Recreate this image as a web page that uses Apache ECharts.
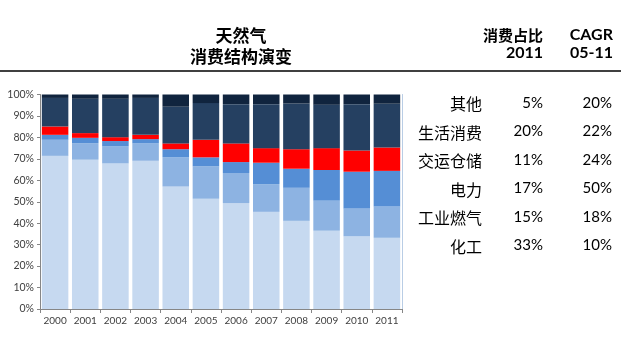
<!DOCTYPE html>
<html>
<head>
<meta charset="utf-8">
<script src="https://cdn.jsdelivr.net/npm/echarts@6/dist/echarts.min.js"></script>
<style>
  html, body { margin: 0; padding: 0; background: #fff; }
  #chart { width: 621px; height: 338px; }
</style>
</head>
<body>
<div id="chart"></div>
<script>
// Natural gas consumption structure, share of each end use (%)
const years = ['2000', '2001', '2002', '2003', '2004', '2005', '2006', '2007', '2008', '2009', '2010', '2011'];
const chemical  = [71.4, 69.6, 67.9, 69.1, 57.1, 51.4, 49.4, 45.3, 41.1, 36.5, 33.9, 33.2];
const industry  = [7.5, 7.7, 7.9, 8.1, 13.7, 15.1, 14.0, 12.9, 15.4, 14.0, 13.0, 14.6];
const power     = [2.3, 2.5, 2.5, 2.0, 3.7, 4.2, 5.1, 10.0, 8.9, 14.3, 17.1, 16.6];
const transport = [3.9, 2.2, 1.8, 2.0, 2.7, 8.2, 8.7, 6.8, 9.1, 10.2, 9.9, 10.9];
const household = [13.3, 16.0, 17.9, 17.2, 17.1, 17.1, 18.3, 20.5, 21.3, 20.2, 21.6, 20.4];
const other     = [1.6, 2.0, 2.0, 1.6, 5.7, 4.0, 4.5, 4.5, 4.2, 4.8, 4.5, 4.3];

// Side table, listed top to bottom
const tableNames = ['其他', '生活消费', '交运仓储', '电力', '工业燃气', '化工'];
const share2011  = ['5%', '20%', '11%', '17%', '15%', '33%'];
const cagr0511   = ['20%', '22%', '24%', '50%', '18%', '10%'];

const yTicks = { min: 0, max: 100, interval: 10 };

const cjk = '"Noto Sans CJK SC", sans-serif';
const latin = 'Lato, "Liberation Sans", sans-serif';

const stackDefs = [
  { name: '化工', data: chemical, color: '#C6D9F0' },
  { name: '工业燃气', data: industry, color: '#8DB3E2' },
  { name: '电力', data: power, color: '#558ED5' },
  { name: '交运仓储', data: transport, color: '#FF0000' },
  { name: '生活消费', data: household, color: '#254061' },
  { name: '其他', data: other, color: '#10243E' }
];

const chart = echarts.init(document.getElementById('chart'), null, { renderer: 'canvas' });

const graphics = [
  { type: 'line', shape: { x1: 0, y1: 71, x2: 621, y2: 71 }, style: { stroke: '#000', lineWidth: 1.5 } },
  { type: 'text', x: 241, y: 36, style: { text: '天然气', font: 'bold 17px ' + cjk, fill: '#000', align: 'center', verticalAlign: 'middle' } },
  { type: 'text', x: 241, y: 57, style: { text: '消费结构演变', font: 'bold 17px ' + cjk, fill: '#000', align: 'center', verticalAlign: 'middle' } },
  { type: 'text', x: 543, y: 35, style: { text: '消费占比', font: 'bold 15px ' + cjk, fill: '#000', align: 'right', verticalAlign: 'middle' } },
  { type: 'text', x: 543, y: 53, style: { text: '2011', font: 'bold 16px ' + latin, fill: '#000', align: 'right', verticalAlign: 'middle' } },
  { type: 'text', x: 613, y: 35, style: { text: 'CAGR', font: 'bold 16px ' + latin, fill: '#000', align: 'right', verticalAlign: 'middle' } },
  { type: 'text', x: 613, y: 53, style: { text: '05-11', font: 'bold 16px ' + latin, fill: '#000', align: 'right', verticalAlign: 'middle' } }
];

tableNames.forEach((name, i) => {
  const y = 104 + i * 28.5;
  graphics.push(
    { type: 'text', x: 482, y: y, style: { text: name, font: '16px ' + cjk, fill: '#000', align: 'right', verticalAlign: 'middle' } },
    { type: 'text', x: 543, y: y - 1, style: { text: share2011[i], font: '15px ' + latin, fill: '#000', align: 'right', verticalAlign: 'middle' } },
    { type: 'text', x: 612, y: y - 1, style: { text: cagr0511[i], font: '15px ' + latin, fill: '#000', align: 'right', verticalAlign: 'middle' } }
  );
});

chart.setOption({
  animation: false,
  grid: { left: 40, right: 219, top: 94.5, bottom: 29, containLabel: false },
  xAxis: {
    type: 'category',
    data: years,
    axisLine: { lineStyle: { color: '#868686', width: 1 } },
    axisTick: { show: true, alignWithLabel: false, length: 4, lineStyle: { color: '#868686' } },
    axisLabel: { color: '#404040', fontSize: 10, fontFamily: latin, margin: 7, interval: 0, hideOverlap: false }
  },
  yAxis: [
    {
      type: 'value',
      min: yTicks.min, max: yTicks.max, interval: yTicks.interval,
      axisLine: { show: true, lineStyle: { color: '#868686', width: 1 } },
      axisTick: { show: true, length: 3, lineStyle: { color: '#868686' } },
      axisLabel: { color: '#404040', fontSize: 10.5, fontFamily: latin, margin: 6, formatter: '{value}%' },
      splitLine: { show: false }
    },
    {
      type: 'value',
      position: 'right',
      min: yTicks.min, max: yTicks.max, interval: yTicks.interval,
      axisLine: { show: true, lineStyle: { color: '#B9CDE5', width: 1 } },
      axisTick: { show: false },
      axisLabel: { show: false },
      splitLine: { show: false }
    }
  ],
  series: stackDefs.map(s => ({
    name: s.name,
    type: 'bar',
    stack: 'share',
    data: s.data,
    barCategoryGap: '12%',
    itemStyle: { color: s.color },
    emphasis: { disabled: true }
  })),
  graphic: graphics
});
</script>
</body>
</html>
